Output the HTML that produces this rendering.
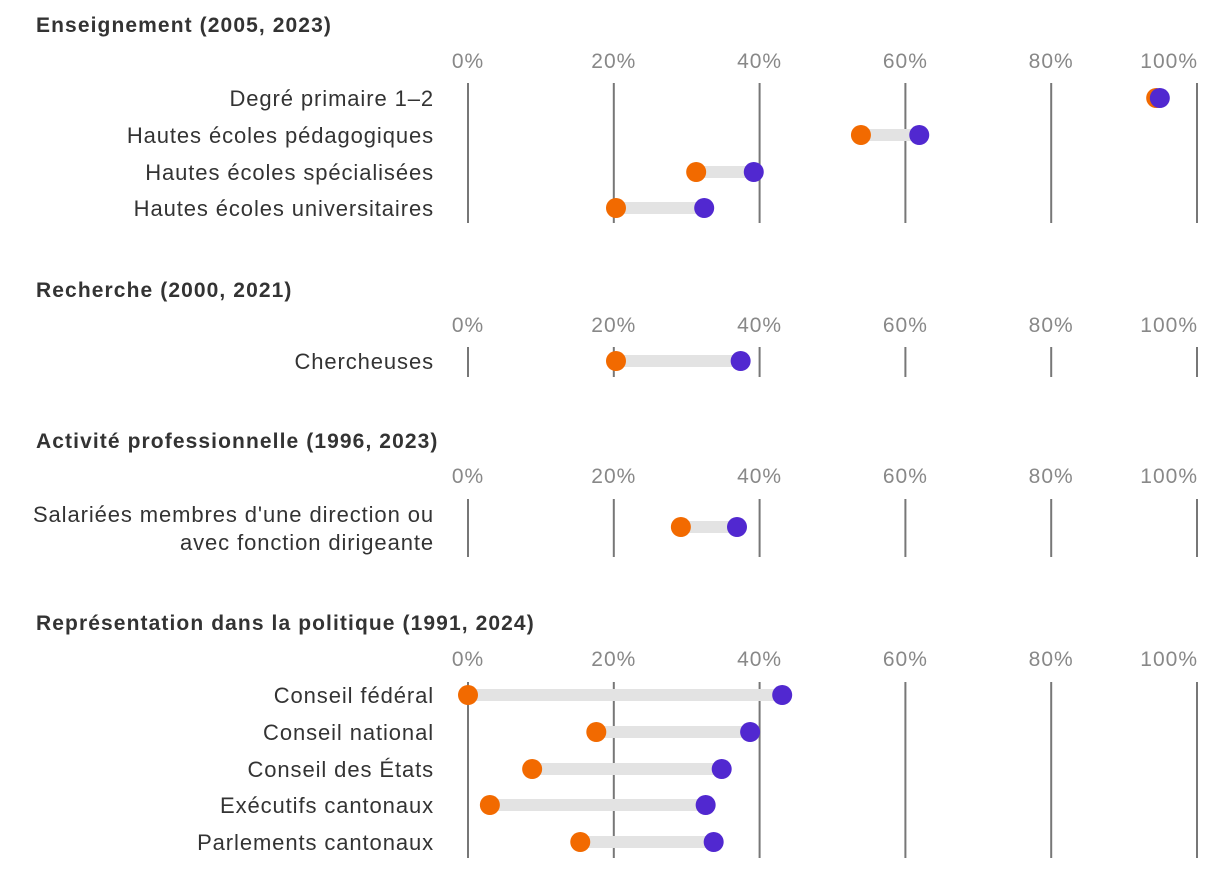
<!DOCTYPE html>
<html><head><meta charset="utf-8"><style>
body{margin:0;background:#fff;width:1220px;height:868px;overflow:hidden;font-family:"Liberation Sans",sans-serif}
svg text{font-family:"Liberation Sans",sans-serif}
</style></head><body>
<svg id="c" width="1220" height="868"></svg>
<script>
const sectionTitles=["Enseignement (2005, 2023)","Recherche (2000, 2021)","Activité professionnelle (1996, 2023)","Représentation dans la politique (1991, 2024)"];
const categories=[["Degré primaire 1–2","Hautes écoles pédagogiques","Hautes écoles spécialisées","Hautes écoles universitaires"],["Chercheuses"],[["Salariées membres d'une direction ou","avec fonction dirigeante"]],["Conseil fédéral","Conseil national","Conseil des États","Exécutifs cantonaux","Parlements cantonaux"]];
const startValues=[[94.4,53.9,31.3,20.3],[20.3],[29.2],[0,17.6,8.8,3.0,15.4]];
const endValues=[[94.9,61.9,39.2,32.4],[37.4],[36.9],[43.1,38.7,34.8,32.6,33.7]];
const tickValues=[0,20,40,60,80,100];
const tickLabels=["0%","20%","40%","60%","80%","100%"];
const layout=[{title:24,tick:60,g0:83,g1:223,rows:[98,135,172,208]},{title:289,tick:324,g0:347,g1:377,rows:[361]},{title:440,tick:475,g0:499,g1:557,rows:[527]},{title:622,tick:658,g0:682,g1:858,rows:[695,732,769,805,842]}];
const x=v=>468+v*7.29;
const svg=document.getElementById('c');const NS="http://www.w3.org/2000/svg";
function mk(t,a,p){const e=document.createElementNS(NS,t);for(const k in a)e.setAttribute(k,a[k]);(p||svg).appendChild(e);return e;}
layout.forEach((L,s)=>{
 const t=mk('text',{x:36,y:L.title+8,'font-size':21,'font-weight':'bold',fill:'#333','letter-spacing':1.1});t.textContent=sectionTitles[s];
 
 
 tickValues.forEach((v,i)=>{
  const l=mk('line',{x1:x(v),x2:x(v),y1:L.g0,y2:L.g1,stroke:'#777','stroke-width':2});
  
  
  const last=i===tickValues.length-1;
  const tl=mk('text',{x:last?x(v)+1:x(v),y:L.tick+8,'font-size':21,fill:'#888','text-anchor':last?'end':'middle','letter-spacing':1});tl.textContent=tickLabels[i];
  
  
 });
 L.rows.forEach((y,r)=>{
  const c=categories[s][r];
  const lab=mk('text',{x:434,y:y+8,'font-size':22,fill:'#333','text-anchor':'end','letter-spacing':0.9});
  
  
  if(Array.isArray(c)){lab.setAttribute('y',y-5);lab.textContent=c[0];const l2=mk('text',{x:434,y:y+23,'font-size':22,fill:'#333','text-anchor':'end','letter-spacing':0.9});l2.textContent=c[1];
   
   }
  else lab.textContent=c;
  const a=startValues[s][r],b=endValues[s][r];
  const bar=mk('line',{x1:x(a),x2:x(b),y1:y,y2:y,stroke:'#e3e3e3','stroke-width':12});
  
  
  const d1=mk('circle',{cx:x(a),cy:y,r:10,fill:'#f26a00'});
  
  
  const d2=mk('circle',{cx:x(b),cy:y,r:10,fill:'#5128d0'});
  
  
 });
});
</script>
</body></html>
